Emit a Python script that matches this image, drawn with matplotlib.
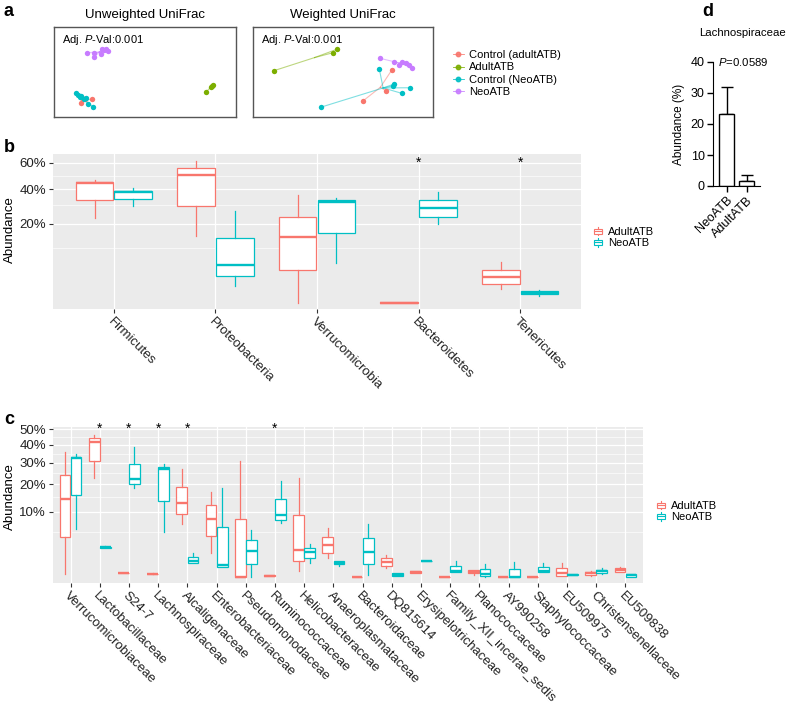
import numpy as np
import matplotlib
matplotlib.use('Agg')
import matplotlib.pyplot as plt
from matplotlib.legend_handler import HandlerBase
from matplotlib.patches import Rectangle
from matplotlib.lines import Line2D

plt.rcParams['font.family'] = ['Liberation Sans', 'DejaVu Sans']
plt.rcParams['mathtext.fontset'] = 'custom'
plt.rcParams['mathtext.rm'] = 'Liberation Sans'
plt.rcParams['mathtext.it'] = 'Liberation Sans:italic'

RED, GREEN, CYAN, PURPLE = '#F8766D', '#7CAE00', '#00BFC4', '#C77CFF'

# ---- panel a: PCoA coordinates (PC1, PC2) ----
pcoa_groups = ['Control (adultATB)', 'AdultATB', 'Control (NeoATB)', 'NeoATB']
unw_ctrl_adult = [(-0.348, -0.175), (-0.291, -0.182), (-0.350, -0.209), (-0.330, -0.178)]
unw_adult = [(0.334, -0.135), (0.361, -0.098), (0.375, -0.089), (0.368, -0.093)]
unw_ctrl_neo = [(-0.379, -0.142), (-0.366, -0.153), (-0.353, -0.158), (-0.335, -0.178),
                (-0.323, -0.171), (-0.312, -0.213), (-0.284, -0.235), (-0.357, -0.165)]
unw_neo = [(-0.320, 0.129), (-0.279, 0.125), (-0.282, 0.098), (-0.236, 0.153),
           (-0.227, 0.147), (-0.214, 0.151), (-0.202, 0.142), (-0.242, 0.118)]
w_ctrl_adult = [(0.271, 0.013), (0.239, -0.127), (0.113, -0.191)]
w_adult = [(-0.383, 0.009), (-0.054, 0.129), (-0.035, 0.151)]
w_ctrl_neo = [(0.202, 0.018), (-0.124, -0.235), (0.285, -0.080), (0.276, -0.093),
              (0.326, -0.142), (0.372, -0.105)]
w_neo = [(0.206, 0.091), (0.285, 0.067), (0.311, 0.047), (0.328, 0.067),
         (0.350, 0.060), (0.367, 0.050), (0.383, 0.029)]

# ---- panel b: phylum abundance [whislo, q1, median, q3, whishi] ----
phyla = ['Firmicutes', 'Proteobacteria', 'Verrucomicrobia', 'Bacteroidetes', 'Tenericutes']
phyla_adult = [[0.23, 0.33, 0.445, 0.45, 0.47],
               [0.146, 0.295, 0.504, 0.556, 0.619],
               [0.0005, 0.040, 0.142, 0.236, 0.363],
               [0.0005, 0.0005, 0.0005, 0.0006, 0.0006],
               [0.0094, 0.0153, 0.0255, 0.0396, 0.0593]]
phyla_neo = [[0.295, 0.335, 0.382, 0.389, 0.407],
             [0.0127, 0.028, 0.051, 0.139, 0.268],
             [0.055, 0.158, 0.321, 0.331, 0.342],
             [0.198, 0.233, 0.285, 0.331, 0.384],
             [0.0035, 0.0047, 0.0057, 0.0071, 0.0084]]
phyla_sig = ['Bacteroidetes', 'Tenericutes']

# ---- panel c: family abundance [whislo, q1, median, q3, whishi] ----
families = ['Verrucomicrobiaceae', 'Lactobacillaceae', 'S24-7', 'Lachnospiraceae',
            'Alcaligenaceae', 'Enterobacteriaceae', 'Pseudomonodaceae', 'Ruminococcaceae',
            'Helicobacteraceae', 'Anaeroplasmataceae', 'Bacteroidaceae', 'DQ815614',
            'Erysipelotrichaceae', 'Family_XII_incerae_sedis', 'Planococcaceae', 'AY990258',
            'Staphylococcaceae', 'EU509975', 'Christensenellaceae', 'EU509838']
family_adult = [[0.0006, 0.0387, 0.141, 0.242, 0.361],
                [0.226, 0.311, 0.42, 0.44, 0.461],
                [0.0007, 0.0008, 0.0008, 0.0008, 0.0009],
                [0.0005, 0.0006, 0.0006, 0.0006, 0.0007],
                [0.0666, 0.0931, 0.1275, 0.19, 0.268],
                [0.0147, 0.0411, 0.0801, 0.121, 0.17],
                [0.0001, 0.0001, 0.0001, 0.0793, 0.311],
                [0.0002, 0.0002, 0.0002, 0.0003, 0.0003],
                [0.0014, 0.0072, 0.0187, 0.0911, 0.226],
                [0.0095, 0.0154, 0.0253, 0.0398, 0.0579],
                [0.0001, 0.0001, 0.0001, 0.0001, 0.0001],
                [0.0025, 0.0039, 0.0067, 0.0101, 0.0128],
                [0.0007, 0.0007, 0.0011, 0.0015, 0.0015],
                [0.0001, 0.0001, 0.0001, 0.0001, 0.0001],
                [0.0004, 0.0007, 0.0012, 0.0017, 0.0017],
                [0.0001, 0.0001, 0.0001, 0.0001, 0.0001],
                [0.0001, 0.0001, 0.0001, 0.0001, 0.0001],
                [0.0002, 0.0002, 0.0009, 0.0025, 0.0055],
                [0.0002, 0.0004, 0.0007, 0.0012, 0.0015],
                [0.0010, 0.0010, 0.0018, 0.0025, 0.0034]]
family_neo = [[0.055, 0.157, 0.324, 0.333, 0.348],
              [0.021, 0.0215, 0.0224, 0.023, 0.0235],
              [0.183, 0.201, 0.221, 0.294, 0.386],
              [0.0498, 0.134, 0.268, 0.281, 0.294],
              [0.0055, 0.0059, 0.007, 0.0105, 0.0147],
              [0.0034, 0.0034, 0.0044, 0.0609, 0.183],
              [0.0001, 0.005, 0.0174, 0.0338, 0.0534],
              [0.0705, 0.0775, 0.0903, 0.141, 0.214],
              [0.0055, 0.0098, 0.0159, 0.021, 0.0273],
              [0.0038, 0.0048, 0.0059, 0.0072, 0.0072],
              [0.0004, 0.0048, 0.0166, 0.038, 0.0666],
              [0.0002, 0.0002, 0.0004, 0.0007, 0.0007],
              [0.0070, 0.0071, 0.0072, 0.0073, 0.0074],
              [0.0010, 0.0010, 0.0015, 0.0039, 0.0075],
              [0.0001, 0.0002, 0.0006, 0.0022, 0.0050],
              [0.0001, 0.0001, 0.0001, 0.0022, 0.0067],
              [0.0012, 0.0012, 0.0015, 0.0030, 0.0055],
              [0.0003, 0.0003, 0.0004, 0.0006, 0.0006],
              [0.0005, 0.0009, 0.0013, 0.0018, 0.0025],
              [0.0001, 0.0001, 0.0004, 0.0006, 0.0006]]
family_sig = ['Lactobacillaceae', 'S24-7', 'Lachnospiraceae', 'Alcaligenaceae', 'Ruminococcaceae']

# ---- panel d: Lachnospiraceae mean +/- error ----
d_groups = ['NeoATB', 'AdultATB']
d_mean = [23.2, 1.7]
d_err = [8.7, 1.8]

W, H = 788, 705
fig = plt.figure(figsize=(W / 100, H / 100), dpi=100)


def px_axes(l, t, r, b):
    return fig.add_axes([l / W, 1 - b / H, (r - l) / W, (b - t) / H])


def ftext(x, y, s, **kw):
    fig.text(x / W, 1 - y / H, s, **kw)


def fwd(v):
    return np.sign(v) * np.sqrt(np.abs(v))


def inv(v):
    return np.sign(v) * v ** 2


class BoxHandler(HandlerBase):
    def create_artists(self, legend, orig_handle, xdescent, ydescent, width, height, fontsize, trans):
        c = orig_handle.get_edgecolor()
        x0, y0 = -xdescent, -ydescent
        cx = x0 + width / 2
        box = Rectangle((x0 + width * 0.1, y0 + height * 0.2), width * 0.8, height * 0.6,
                        facecolor='white', edgecolor=c, lw=0.8, transform=trans)
        med = Line2D([x0 + width * 0.1, x0 + width * 0.9], [y0 + height / 2] * 2, color=c, lw=0.8, transform=trans)
        wl = Line2D([cx, cx], [y0, y0 + height * 0.2], color=c, lw=0.8, transform=trans)
        wh = Line2D([cx, cx], [y0 + height * 0.8, y0 + height], color=c, lw=0.8, transform=trans)
        return [box, med, wl, wh]


# ---------------- panel a ----------------
def pcoa_panel(ax, groups_pts):
    for pts, col in zip(groups_pts, [RED, GREEN, CYAN, PURPLE]):
        pts = np.array(pts)
        cx, cy = pts.mean(axis=0)
        for x, y in pts:
            ax.plot([cx, x], [cy, y], color=col, lw=0.8, alpha=0.5, zorder=1)
        ax.scatter(pts[:, 0], pts[:, 1], s=15, color=col, zorder=2, linewidths=0)
    ax.set_xlim(-0.5, 0.5)
    ax.set_ylim(-0.3, 0.3)
    ax.set_xticks([])
    ax.set_yticks([])
    for s in ax.spines.values():
        s.set_color('#555555')
        s.set_linewidth(1.0)
    ax.text(0.045, 0.86, 'Adj. $P$-Val:0.001', transform=ax.transAxes, fontsize=8, va='center')


ax_a1 = px_axes(54, 27, 236, 117)
pcoa_panel(ax_a1, [unw_ctrl_adult, unw_adult, unw_ctrl_neo, unw_neo])
ax_a2 = px_axes(253, 27, 433, 117)
pcoa_panel(ax_a2, [w_ctrl_adult, w_adult, w_ctrl_neo, w_neo])
ftext(145, 15, 'Unweighted UniFrac', ha='center', va='center', fontsize=9.5)
ftext(343, 15, 'Weighted UniFrac', ha='center', va='center', fontsize=9.5)

a_handles = [Line2D([0], [0], color=c, marker='o', ms=3.2, lw=0.6, alpha=0.9) for c in [RED, GREEN, CYAN, PURPLE]]
fig.legend(a_handles, pcoa_groups, loc='center left', bbox_to_anchor=(447 / W, 1 - 73.5 / H),
           frameon=False, fontsize=8, handlelength=1.0, handletextpad=0.5, labelspacing=0.2, borderpad=0)


# ---------------- box panels ----------------
def box_panel(ax, cats, adult, neo, sig, majors, minors, ylims):
    ax.set_facecolor('#EBEBEB')
    ax.set_yscale('function', functions=(fwd, inv))
    pos = np.arange(1, len(cats) + 1)
    for rows, off, col in [(adult, -0.19, RED), (neo, 0.19, CYAN)]:
        stats = [dict(whislo=r[0], q1=r[1], med=r[2], q3=r[3], whishi=r[4]) for r in rows]
        ax.bxp(stats, positions=pos + off, widths=0.37, patch_artist=True, showfliers=False,
               showcaps=False, manage_ticks=False,
               boxprops=dict(facecolor='white', edgecolor=col, linewidth=0.9),
               medianprops=dict(color=col, linewidth=1.7),
               whiskerprops=dict(color=col, linewidth=0.9))
    for s in sig:
        ax.text(cats.index(s) + 1, majors[-1], '*', ha='center', va='center', fontsize=10)
    ax.set_xlim(0.4, len(cats) + 0.6)
    ax.set_ylim(ylims)
    ax.set_yticks(majors)
    ax.set_yticklabels(['%d%%' % round(m * 100) for m in majors])
    ax.set_yticks(minors, minor=True)
    ax.set_xticks(pos)
    ax.set_xticklabels(cats, rotation=-45, ha='left', va='top', rotation_mode='anchor')
    ax.grid(True, which='major', color='white', lw=0.9)
    ax.grid(True, which='minor', axis='y', color='white', lw=0.45)
    ax.set_axisbelow(True)
    for s in ax.spines.values():
        s.set_visible(False)
    ax.tick_params(which='major', length=3, width=0.8, color='#333333', labelsize=9.5,
                   labelcolor='#222222', pad=2)
    ax.tick_params(which='minor', length=0)


ax_b = px_axes(53, 154, 581, 309)
box_panel(ax_b, phyla, phyla_adult, phyla_neo, phyla_sig, [0.2, 0.4, 0.6], [0.1, 0.3, 0.5],
          (inv(-0.011), inv(0.823)))
ax_c = px_axes(53, 427, 643, 583)
box_panel(ax_c, families, family_adult, family_neo, family_sig, [0.1, 0.2, 0.3, 0.4, 0.5],
          [0.05, 0.15, 0.25, 0.35, 0.45], (inv(-0.019), inv(0.717)))

ftext(10, 230, 'Abundance', rotation=90, ha='center', va='center', fontsize=9.5)
ftext(10, 497, 'Abundance', rotation=90, ha='center', va='center', fontsize=9.5)

box_handles = [Rectangle((0, 0), 1, 1, edgecolor=RED, facecolor='white'),
               Rectangle((0, 0), 1, 1, edgecolor=CYAN, facecolor='white')]
for x0, yc in [(588, 237.5), (651, 511.5)]:
    fig.legend(box_handles, ['AdultATB', 'NeoATB'], loc='center left',
               bbox_to_anchor=(x0 / W, 1 - yc / H), frameon=False, fontsize=8,
               handlelength=0.8, handleheight=0.8, handletextpad=0.5, labelspacing=0.1,
               borderpad=0, handler_map={Rectangle: BoxHandler()})

# ---------------- panel d ----------------
ax_d = px_axes(713, 62, 760, 186)
xd = np.arange(len(d_groups))
ax_d.bar(xd, d_mean, width=0.75, color='white', edgecolor='black', linewidth=1.0, zorder=2)
ax_d.errorbar(xd, d_mean, yerr=[np.zeros(len(d_err)), d_err], fmt='none', ecolor='black',
              elinewidth=1.0, capsize=4, capthick=1.0, zorder=1)
ax_d.set_xlim(-0.69, 1.66)
ax_d.set_ylim(0, 40)
ax_d.set_yticks([0, 10, 20, 30, 40])
ax_d.set_xticks(xd)
ax_d.set_xticklabels(d_groups, rotation=45, ha='right', va='top', rotation_mode='anchor')
ax_d.spines['top'].set_visible(False)
ax_d.spines['right'].set_visible(False)
ax_d.tick_params(length=4, width=1.0, labelsize=9, pad=2)
ax_d.set_ylabel('Abundance (%)', fontsize=8.5, labelpad=4)
ax_d.text(-0.45, 40, '$P$=0.0589', fontsize=8.2, va='center', ha='left')
ftext(743, 33, 'Lachnospiraceae', ha='center', va='center', fontsize=8.2)

# panel letters
for lab, x, y in [('a', 9, 12), ('b', 9, 148), ('c', 9, 420), ('d', 708, 11)]:
    ftext(x, y, lab, ha='center', va='center', fontsize=13, fontweight='bold')

fig.savefig('out.png', dpi=100)
